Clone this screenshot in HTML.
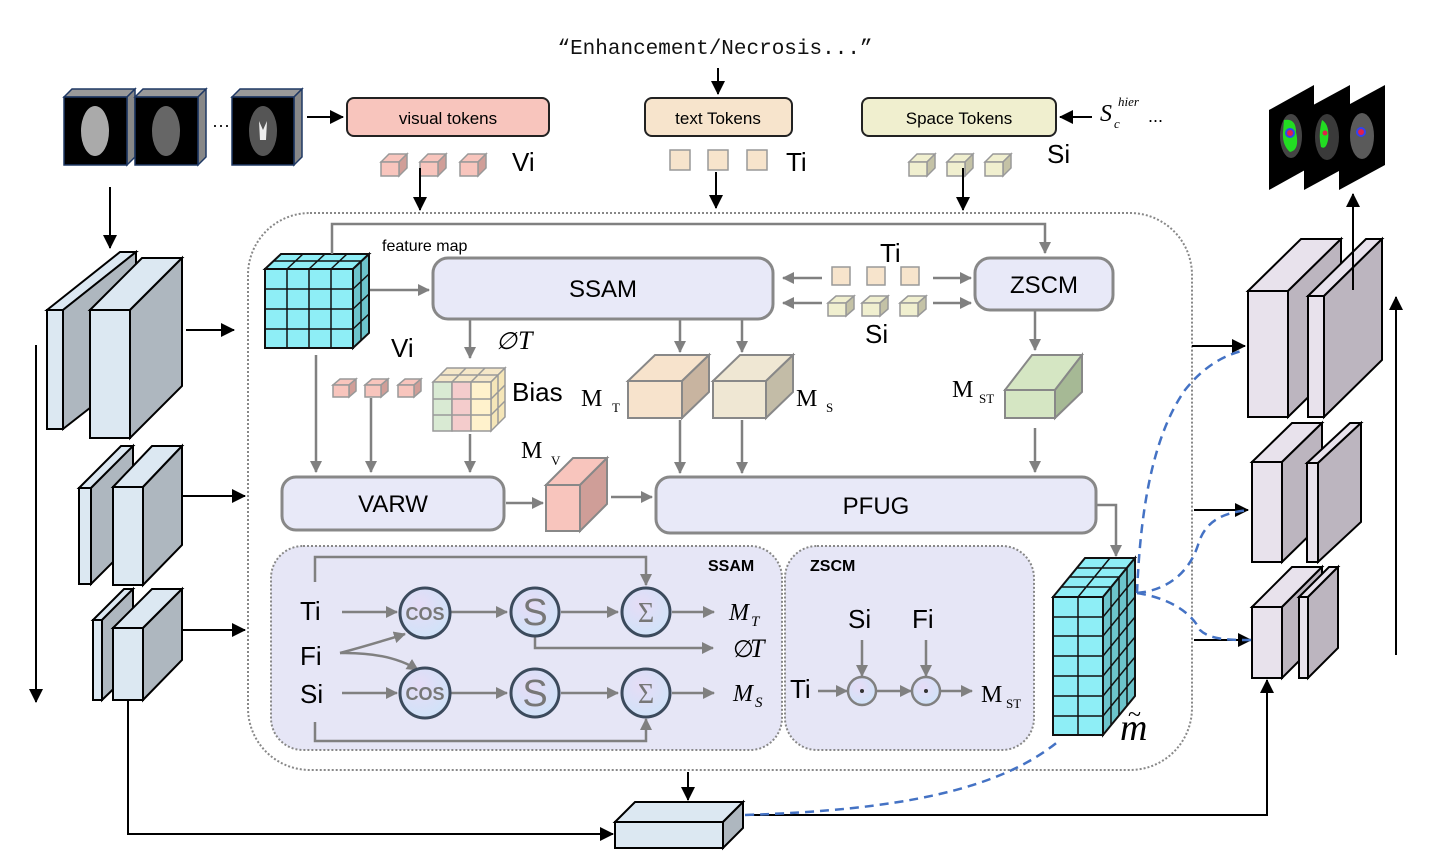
<!DOCTYPE html>
<html><head><meta charset="utf-8"><style>
html,body{margin:0;padding:0;background:#fff;}
svg{display:block;font-family:"Liberation Sans",sans-serif;}
.serif{font-family:"Liberation Serif",serif;}
</style></head><body>
<svg width="1450" height="862" viewBox="0 0 1450 862" xmlns="http://www.w3.org/2000/svg">
<defs>
<marker id="ab" markerWidth="10" markerHeight="10" refX="9" refY="5" orient="auto" markerUnits="userSpaceOnUse"><path d="M0,0 L10,5 L0,10 z" fill="#000"/></marker>
<marker id="ag" markerWidth="12" markerHeight="12" refX="11" refY="6" orient="auto" markerUnits="userSpaceOnUse"><path d="M0,0 L12,6 L0,12 z" fill="#808080"/></marker>
<marker id="abl" markerWidth="14" markerHeight="14" refX="13" refY="7" orient="auto" markerUnits="userSpaceOnUse"><path d="M0,0 L14,7 L0,14 z" fill="#000"/></marker>
<radialGradient id="cg" cx="40%" cy="35%" r="70%"><stop offset="0" stop-color="#e6dcf6"/><stop offset="1" stop-color="#cfe3f8"/></radialGradient>
</defs>

<!-- Title text -->
<text x="715" y="54" font-family="Liberation Mono,monospace" font-size="21" text-anchor="middle" fill="#111">“Enhancement/Necrosis...”</text>
<line x1="718" y1="68" x2="718" y2="94" stroke="#000" stroke-width="2" marker-end="url(#abl)"/>

<!-- MRI inputs -->
<g stroke="#1f3864" stroke-width="1.5">
<polygon points="64,97 72,89 135,89 127,97" fill="#999"/><polygon points="127,97 135,89 135,157 127,165" fill="#888"/><rect x="64" y="97" width="63" height="68" fill="#000"/>
<polygon points="135,97 143,89 206,89 198,97" fill="#999"/><polygon points="198,97 206,89 206,157 198,165" fill="#888"/><rect x="135" y="97" width="63" height="68" fill="#000"/>
<polygon points="232,97 240,89 302,89 294,97" fill="#999"/><polygon points="294,97 302,89 302,157 294,165" fill="#888"/><rect x="232" y="97" width="62" height="68" fill="#000"/>
</g>
<ellipse cx="95" cy="131" rx="14" ry="25" fill="#aaa"/>
<ellipse cx="166" cy="131" rx="14" ry="25" fill="#666"/>
<ellipse cx="263" cy="131" rx="14" ry="25" fill="#555"/>
<path d="M259,121 L263,130 L267,121 L266,140 L260,140 z" fill="#eee"/>
<text x="212" y="131" font-size="18">···</text>
<line x1="307" y1="117" x2="343" y2="117" stroke="#000" stroke-width="2" marker-end="url(#abl)"/>

<!-- token boxes -->
<rect x="347" y="98" width="202" height="38" rx="7" fill="#f8c5bd" stroke="#222" stroke-width="2"/>
<text x="448" y="124" font-size="17" text-anchor="middle">visual tokens</text>
<rect x="645" y="98" width="147" height="38" rx="7" fill="#f7e4cc" stroke="#222" stroke-width="2"/>
<text x="718" y="124" font-size="17" text-anchor="middle">text Tokens</text>
<rect x="862" y="98" width="194" height="38" rx="7" fill="#f0efcf" stroke="#222" stroke-width="2"/>
<text x="959" y="124" font-size="17" text-anchor="middle">Space Tokens</text>
<line x1="1092" y1="117" x2="1060" y2="117" stroke="#000" stroke-width="2" marker-end="url(#abl)"/>
<text x="1100" y="121" class="serif" font-size="24" font-style="italic">S</text>
<text x="1118" y="106" class="serif" font-size="13" font-style="italic">hier</text>
<text x="1114" y="128" class="serif" font-size="13" font-style="italic">c</text>
<text x="1148" y="122" font-size="18">...</text>

<!-- small tokens top -->
<g stroke="#999" stroke-width="1.5">
<g fill="#f8c5bd"><polygon points="381,162 389,154 407,154 399,162"/><polygon points="399,162 407,154 407,168 399,176" fill="#d09e98"/><rect x="381" y="162" width="18" height="14"/>
<polygon points="420,162 428,154 446,154 438,162"/><polygon points="438,162 446,154 446,168 438,176" fill="#d09e98"/><rect x="420" y="162" width="18" height="14"/>
<polygon points="460,162 468,154 486,154 478,162"/><polygon points="478,162 486,154 486,168 478,176" fill="#d09e98"/><rect x="460" y="162" width="18" height="14"/></g>
<g fill="#f7e4cc"><rect x="670" y="150" width="20" height="20"/><rect x="708" y="150" width="20" height="20"/><rect x="747" y="150" width="20" height="20"/></g>
<g fill="#f0efcf"><polygon points="909,162 917,154 935,154 927,162"/><polygon points="927,162 935,154 935,168 927,176" fill="#c4c2a6"/><rect x="909" y="162" width="18" height="14"/>
<polygon points="947,162 955,154 973,154 965,162"/><polygon points="965,162 973,154 973,168 965,176" fill="#c4c2a6"/><rect x="947" y="162" width="18" height="14"/>
<polygon points="985,162 993,154 1011,154 1003,162"/><polygon points="1003,162 1011,154 1011,168 1003,176" fill="#c4c2a6"/><rect x="985" y="162" width="18" height="14"/></g>
</g>
<text x="512" y="171" font-size="26">Vi</text>
<text x="786" y="171" font-size="26">Ti</text>
<text x="1047" y="163" font-size="26">Si</text>
<g stroke="#000" stroke-width="2">
<line x1="420" y1="168" x2="420" y2="210" marker-end="url(#abl)"/>
<line x1="716" y1="172" x2="716" y2="208" marker-end="url(#abl)"/>
<line x1="963" y1="168" x2="963" y2="210" marker-end="url(#abl)"/>
</g>

<!-- outer dotted container -->
<rect x="248" y="213" width="944" height="557" rx="62" fill="none" stroke="#888" stroke-width="2" stroke-dasharray="2,2"/>

<!-- left encoder -->
<g stroke="#000" stroke-width="2">
<polygon points="47,310 120,252 136,252 63,310" fill="#dce8f2"/><polygon points="63,310 136,252 136,372 63,429" fill="#aeb7bf"/><rect x="47" y="310" width="16" height="119" fill="#dce8f2"/>
<polygon points="90,310 142,258 182,258 130,310" fill="#dce8f2"/><polygon points="130,310 182,258 182,386 130,438" fill="#aeb7bf"/><rect x="90" y="310" width="40" height="128" fill="#dce8f2"/>

<polygon points="79,488 121,446 133,446 91,488" fill="#dce8f2"/><polygon points="91,488 133,446 133,542 91,584" fill="#aeb7bf"/><rect x="79" y="488" width="12" height="96" fill="#dce8f2"/>
<polygon points="113,487 152,446 182,446 143,487" fill="#dce8f2"/><polygon points="143,487 182,446 182,545 143,585" fill="#aeb7bf"/><rect x="113" y="487" width="30" height="98" fill="#dce8f2"/>

<polygon points="93,620 124,589 133,589 102,620" fill="#dce8f2"/><polygon points="102,620 133,589 133,670 102,700" fill="#aeb7bf"/><rect x="93" y="620" width="9" height="80" fill="#dce8f2"/>
<polygon points="113,628 152,589 182,589 143,628" fill="#dce8f2"/><polygon points="143,628 182,589 182,660 143,700" fill="#aeb7bf"/><rect x="113" y="628" width="30" height="72" fill="#dce8f2"/>
</g>
<g stroke="#000" stroke-width="2" fill="none">
<line x1="110" y1="187" x2="110" y2="248" marker-end="url(#abl)"/>
<line x1="36" y1="345" x2="36" y2="702" marker-end="url(#abl)"/>
<line x1="186" y1="330" x2="234" y2="330" marker-end="url(#abl)"/>
<line x1="183" y1="496" x2="245" y2="496" marker-end="url(#abl)"/>
<line x1="183" y1="630" x2="245" y2="630" marker-end="url(#abl)"/>
<polyline points="128,700 128,834 613,834" marker-end="url(#abl)"/>
<line x1="688" y1="772" x2="688" y2="800" marker-end="url(#abl)"/>
<polyline points="745,815 1267,815 1267,680" marker-end="url(#abl)"/>
</g>
<!-- bottom block -->
<g stroke="#000" stroke-width="2">
<polygon points="615,822 635,802 743,802 723,822" fill="#dce8f2"/><polygon points="723,822 743,802 743,828 723,848" fill="#aeb7bf"/><rect x="615" y="822" width="108" height="26" fill="#dce8f2"/>
</g>

<!-- feature map cube -->
<g stroke="#111" stroke-width="2">
<polygon points="265,269 281,254 369,254 353,269" fill="#8eeef6"/>
<polygon points="353,269 369,254 369,333 353,348" fill="#6cc4cc"/>
<rect x="265" y="269" width="88" height="79" fill="#8eeef6"/>
<path d="M287,269 V348 M309,269 V348 M331,269 V348 M265,289 H353 M265,309 H353 M265,329 H353 M287,269 L303,254 M309,269 L325,254 M331,269 L347,254 M273,261 H361 M353,289 L369,274 M353,309 L369,294 M353,329 L369,314 M361,261 V341" fill="none" stroke-width="1.5"/>
</g>
<text x="382" y="251" font-size="16">feature map</text>

<!-- gray connectors -->
<g stroke="#808080" stroke-width="2.5" fill="none">
<polyline points="332,254 332,224 1045,224 1045,253" marker-end="url(#ag)"/>
<line x1="370" y1="290" x2="429" y2="290" marker-end="url(#ag)"/>
<line x1="470" y1="320" x2="470" y2="358" marker-end="url(#ag)"/>
<line x1="680" y1="320" x2="680" y2="352" marker-end="url(#ag)"/>
<line x1="742" y1="320" x2="742" y2="352" marker-end="url(#ag)"/>
<line x1="822" y1="278" x2="783" y2="278" marker-end="url(#ag)"/>
<line x1="822" y1="303" x2="783" y2="303" marker-end="url(#ag)"/>
<line x1="933" y1="278" x2="971" y2="278" marker-end="url(#ag)"/>
<line x1="933" y1="303" x2="971" y2="303" marker-end="url(#ag)"/>
<line x1="1035" y1="311" x2="1035" y2="350" marker-end="url(#ag)"/>
<line x1="316" y1="355" x2="316" y2="472" marker-end="url(#ag)"/>
<line x1="371" y1="398" x2="371" y2="472" marker-end="url(#ag)"/>
<line x1="470" y1="434" x2="470" y2="472" marker-end="url(#ag)"/>
<line x1="680" y1="420" x2="680" y2="473" marker-end="url(#ag)"/>
<line x1="742" y1="420" x2="742" y2="473" marker-end="url(#ag)"/>
<line x1="1035" y1="428" x2="1035" y2="472" marker-end="url(#ag)"/>
<line x1="506" y1="503" x2="543" y2="503" marker-end="url(#ag)"/>
<line x1="611" y1="497" x2="652" y2="497" marker-end="url(#ag)"/>
<polyline points="1097,505 1116,505 1116,556" marker-end="url(#ag)"/>
</g>

<!-- main boxes -->
<g fill="#e8e9f8" stroke="#888" stroke-width="3">
<rect x="433" y="258" width="340" height="61" rx="15"/>
<rect x="975" y="258" width="138" height="52" rx="15"/>
<rect x="282" y="477" width="222" height="53" rx="14"/>
<rect x="656" y="477" width="440" height="56" rx="14"/>
</g>
<text x="603" y="297" font-size="24" text-anchor="middle">SSAM</text>
<text x="1044" y="293" font-size="24" text-anchor="middle">ZSCM</text>
<text x="393" y="512" font-size="24" text-anchor="middle">VARW</text>
<text x="876" y="514" font-size="24" text-anchor="middle">PFUG</text>

<!-- middle tokens -->
<text x="880" y="262" font-size="26">Ti</text>
<g stroke="#999" stroke-width="1.5">
<g fill="#f7e4cc"><rect x="832" y="267" width="18" height="18"/><rect x="867" y="267" width="18" height="18"/><rect x="901" y="267" width="18" height="18"/></g>
<g fill="#f0efcf"><polygon points="828,303 836,296 854,296 846,303"/><polygon points="846,303 854,296 854,309 846,316" fill="#c4c2a6"/><rect x="828" y="303" width="18" height="13"/>
<polygon points="862,303 870,296 888,296 880,303"/><polygon points="880,303 888,296 888,309 880,316" fill="#c4c2a6"/><rect x="862" y="303" width="18" height="13"/>
<polygon points="900,303 908,296 926,296 918,303"/><polygon points="918,303 926,296 926,309 918,316" fill="#c4c2a6"/><rect x="900" y="303" width="18" height="13"/></g>
<g fill="#f8c5bd"><polygon points="333,385 340,379 356,379 349,385"/><polygon points="349,385 356,379 356,391 349,397" fill="#d09e98"/><rect x="333" y="385" width="16" height="12"/>
<polygon points="365,385 372,379 388,379 381,385"/><polygon points="381,385 388,379 388,391 381,397" fill="#d09e98"/><rect x="365" y="385" width="16" height="12"/>
<polygon points="398,385 405,379 421,379 414,385"/><polygon points="414,385 421,379 421,391 414,397" fill="#d09e98"/><rect x="398" y="385" width="16" height="12"/></g>
</g>
<text x="865" y="343" font-size="26">Si</text>
<text x="391" y="357" font-size="26">Vi</text>
<text x="496" y="349" font-size="24" font-style="italic">∅</text><text x="518" y="349" class="serif" font-size="26" font-style="italic">T</text>

<!-- Bias cube -->
<g stroke="#999" stroke-width="1.5">
<polygon points="433,382 447,368 505,368 491,382" fill="#f5e7c8"/>
<polygon points="491,382 505,368 505,417 491,431" fill="#f5e6b8"/>
<rect x="433" y="382" width="19" height="49" fill="#d9ead3"/>
<rect x="452" y="382" width="19" height="49" fill="#f4cccc"/>
<rect x="471" y="382" width="20" height="49" fill="#fff2cc"/>
<path d="M433,399 H491 M433,415 H491 M452,382 L466,368 M471,382 L485,368 M440,375 H498 M491,399 L505,385 M491,415 L505,401 M498,375 V424" fill="none"/>
</g>
<text x="512" y="401" font-size="26">Bias</text>

<!-- M cubes -->
<g stroke="#888" stroke-width="2">
<polygon points="628,381 655,355 709,355 682,381" fill="#f7e3cc"/><polygon points="682,381 709,355 709,392 682,418" fill="#c8b4a0"/><rect x="628" y="381" width="54" height="37" fill="#f7e3cc"/>
<polygon points="713,381 740,355 793,355 766,381" fill="#efe7d3"/><polygon points="766,381 793,355 793,392 766,418" fill="#c3bca7"/><rect x="713" y="381" width="53" height="37" fill="#efe7d3"/>
<polygon points="1005,390 1032,355 1082,355 1055,390" fill="#d5e6c3"/><polygon points="1055,390 1082,355 1082,392 1055,418" fill="#a6b995"/><rect x="1005" y="390" width="50" height="28" fill="#d5e6c3"/>
<polygon points="546,485 573,458 607,458 580,485" fill="#f8c5bd"/><polygon points="580,485 607,458 607,504 580,531" fill="#cf9e98"/><rect x="546" y="485" width="34" height="46" fill="#f8c5bd"/>
</g>
<g class="serif" font-family="Liberation Serif,serif">
<text x="581" y="406" font-size="24">M</text><text x="612" y="412" font-size="13">T</text>
<text x="796" y="406" font-size="24">M</text><text x="826" y="412" font-size="13">S</text>
<text x="952" y="397" font-size="24">M</text><text x="979" y="403" font-size="13">ST</text>
<text x="521" y="458" font-size="24">M</text><text x="551" y="465" font-size="13">V</text>
</g>

<!-- sub boxes -->
<rect x="271" y="546" width="511" height="204" rx="32" fill="#e6e6f6" stroke="#888" stroke-width="2" stroke-dasharray="2,2"/>
<rect x="785" y="546" width="249" height="204" rx="32" fill="#e6e6f6" stroke="#888" stroke-width="2" stroke-dasharray="2,2"/>
<text x="708" y="571" font-size="16" font-weight="bold">SSAM</text>
<text x="810" y="571" font-size="16" font-weight="bold">ZSCM</text>
<text x="300" y="620" font-size="26">Ti</text>
<text x="300" y="665" font-size="26">Fi</text>
<text x="300" y="703" font-size="26">Si</text>
<g stroke="#808080" stroke-width="2.5" fill="none">
<line x1="342" y1="612" x2="397" y2="612" marker-end="url(#ag)"/>
<line x1="342" y1="693" x2="397" y2="693" marker-end="url(#ag)"/>
<line x1="451" y1="612" x2="507" y2="612" marker-end="url(#ag)"/>
<line x1="451" y1="693" x2="507" y2="693" marker-end="url(#ag)"/>
<line x1="561" y1="612" x2="618" y2="612" marker-end="url(#ag)"/>
<line x1="561" y1="693" x2="618" y2="693" marker-end="url(#ag)"/>
<line x1="672" y1="612" x2="714" y2="612" marker-end="url(#ag)"/>
<line x1="672" y1="693" x2="714" y2="693" marker-end="url(#ag)"/>
<polyline points="535,637 535,648 713,648" marker-end="url(#ag)"/>
<polyline points="315,582 315,557 646,557 646,585" marker-end="url(#ag)"/>
<polyline points="315,722 315,741 646,741 646,719" marker-end="url(#ag)"/>
<path d="M340,653 Q370,645 405,634" marker-end="url(#ag)"/>
<path d="M340,653 Q390,652 418,670" marker-end="url(#ag)"/>
<line x1="862" y1="640" x2="862" y2="676" marker-end="url(#ag)"/>
<line x1="926" y1="640" x2="926" y2="676" marker-end="url(#ag)"/>
<line x1="818" y1="691" x2="847" y2="691" marker-end="url(#ag)"/>
<line x1="877" y1="691" x2="911" y2="691" marker-end="url(#ag)"/>
<line x1="941" y1="691" x2="972" y2="691" marker-end="url(#ag)"/>
</g>
<g fill="url(#cg)" stroke="#3b4a5c" stroke-width="3">
<circle cx="425" cy="613" r="25"/><circle cx="535" cy="612" r="24"/><circle cx="646" cy="612" r="24"/>
<circle cx="425" cy="693" r="25"/><circle cx="535" cy="693" r="24"/><circle cx="646" cy="693" r="24"/>
</g>
<g fill="url(#cg)" stroke="#808080" stroke-width="2.5"><circle cx="862" cy="691" r="14"/><circle cx="926" cy="691" r="14"/></g>
<g fill="#333"><circle cx="862" cy="691" r="2"/><circle cx="926" cy="691" r="2"/></g>
<g fill="#777" text-anchor="middle">
<text x="425" y="620" font-size="18" font-weight="bold">COS</text>
<text x="425" y="700" font-size="18" font-weight="bold">COS</text>
<text x="535" y="625" font-size="38">S</text>
<text x="535" y="706" font-size="38">S</text>
<text x="646" y="622" font-size="28" class="serif" font-family="Liberation Serif,serif">Σ</text>
<text x="646" y="703" font-size="28" class="serif" font-family="Liberation Serif,serif">Σ</text>
</g>
<g font-family="Liberation Serif,serif" font-style="italic">
<text x="729" y="620" font-size="24">M</text><text x="751" y="626" font-size="15">T</text>
<text x="733" y="657" font-size="24" font-family="Liberation Sans,sans-serif" font-style="normal">∅</text><text x="750" y="657" font-size="26">T</text>
<text x="733" y="701" font-size="24">M</text><text x="755" y="707" font-size="15">S</text>
</g>
<text x="848" y="628" font-size="26">Si</text>
<text x="912" y="628" font-size="26">Fi</text>
<text x="790" y="698" font-size="26">Ti</text>
<text x="981" y="702" font-size="24" font-family="Liberation Serif,serif">M</text><text x="1006" y="708" font-size="13" font-family="Liberation Serif,serif">ST</text>

<!-- m tilde cube -->
<g stroke="#111" stroke-width="2">
<polygon points="1053,597 1085,558 1135,558 1103,597" fill="#8eeef6"/>
<polygon points="1103,597 1135,558 1135,696 1103,735" fill="#6cc4cc"/>
<rect x="1053" y="597" width="50" height="138" fill="#8eeef6"/>
<path d="M1078,597 V735 M1053,617 H1103 M1053,636 H1103 M1053,656 H1103 M1053,676 H1103 M1053,696 H1103 M1053,716 H1103 M1078,597 L1110,558 M1061,587 H1111 M1069,577 H1119 M1077,568 H1127 M1111,587 V725 M1119,577 V716 M1127,568 V706 M1103,617 L1135,578 M1103,636 L1135,597 M1103,656 L1135,617 M1103,676 L1135,637 M1103,696 L1135,657 M1103,716 L1135,677" fill="none" stroke-width="1.5"/>
</g>
<text x="1120" y="740" font-size="38" font-family="Liberation Serif,serif" font-style="italic">m</text>
<text x="1128" y="722" font-size="24" font-family="Liberation Serif,serif">~</text>

<!-- right decoder -->
<g stroke="#000" stroke-width="2">
<polygon points="1248,291 1301,239 1341,239 1288,291" fill="#e8e2ec"/><polygon points="1288,291 1341,239 1341,365 1288,417" fill="#bcb5bf"/><rect x="1248" y="291" width="40" height="126" fill="#e8e2ec"/>
<polygon points="1308,296 1366,239 1382,239 1324,296" fill="#e8e2ec"/><polygon points="1324,296 1382,239 1382,360 1324,417" fill="#bcb5bf"/><rect x="1308" y="296" width="16" height="121" fill="#e8e2ec"/>
<polygon points="1252,462 1292,423 1322,423 1282,462" fill="#e8e2ec"/><polygon points="1282,462 1322,423 1322,523 1282,562" fill="#bcb5bf"/><rect x="1252" y="462" width="30" height="100" fill="#e8e2ec"/>
<polygon points="1307,463 1350,423 1361,423 1318,463" fill="#e8e2ec"/><polygon points="1318,463 1361,423 1361,522 1318,562" fill="#bcb5bf"/><rect x="1307" y="463" width="11" height="99" fill="#e8e2ec"/>
<polygon points="1252,607 1292,567 1322,567 1282,607" fill="#e8e2ec"/><polygon points="1282,607 1322,567 1322,638 1282,678" fill="#bcb5bf"/><rect x="1252" y="607" width="30" height="71" fill="#e8e2ec"/>
<polygon points="1299,597 1329,567 1338,567 1308,597" fill="#e8e2ec"/><polygon points="1308,597 1338,567 1338,648 1308,678" fill="#bcb5bf"/><rect x="1299" y="597" width="9" height="81" fill="#e8e2ec"/>
</g>
<g stroke="#000" stroke-width="2" fill="none">
<line x1="1192" y1="346" x2="1245" y2="346" marker-end="url(#abl)"/>
<line x1="1194" y1="510" x2="1248" y2="510" marker-end="url(#abl)"/>
<line x1="1194" y1="640" x2="1251" y2="640" marker-end="url(#abl)"/>
<line x1="1353" y1="290" x2="1353" y2="194" marker-end="url(#abl)"/>
<line x1="1396" y1="655" x2="1396" y2="297" marker-end="url(#abl)"/>
</g>
<!-- blue dashed -->
<g stroke="#4472c4" stroke-width="2.5" fill="none" stroke-dasharray="9,6">
<path d="M745,815 C900,810 1000,790 1060,740"/>
<path d="M1137,593 C1140,520 1150,440 1185,390 C1205,365 1225,355 1245,350"/>
<path d="M1137,593 C1170,590 1190,570 1198,545 C1205,520 1225,512 1250,510"/>
<path d="M1137,593 C1180,600 1195,620 1200,630 C1210,640 1230,640 1252,640"/>
</g>

<!-- output segmentation -->
<g>
<polygon points="1269,110 1314,85 1314,165 1269,190" fill="#000"/>
<ellipse cx="1291" cy="136" rx="11" ry="22" fill="#444"/>
<path d="M1284,120 Q1296,118 1296,132 Q1300,150 1290,152 Q1282,145 1283,132 z" fill="#22dd22"/>
<circle cx="1290" cy="133" r="5" fill="#3344ee"/><circle cx="1290" cy="133" r="3" fill="#e0204a"/>
<polygon points="1304,110 1350,85 1350,165 1304,190" fill="#000"/>
<ellipse cx="1327" cy="137" rx="12" ry="23" fill="#3a3a3a"/>
<path d="M1322,120 Q1330,125 1328,140 Q1326,150 1321,147 Q1318,135 1322,120 z" fill="#22dd22"/>
<circle cx="1325" cy="133" r="2.5" fill="#e0204a"/>
<polygon points="1339,110 1385,85 1385,165 1339,190" fill="#000"/>
<ellipse cx="1362" cy="136" rx="12" ry="23" fill="#5a5a5a"/>
<circle cx="1361" cy="132" r="5" fill="#3344ee"/><circle cx="1361" cy="132" r="3" fill="#e0204a"/>
</g>
</svg>
</body></html>
